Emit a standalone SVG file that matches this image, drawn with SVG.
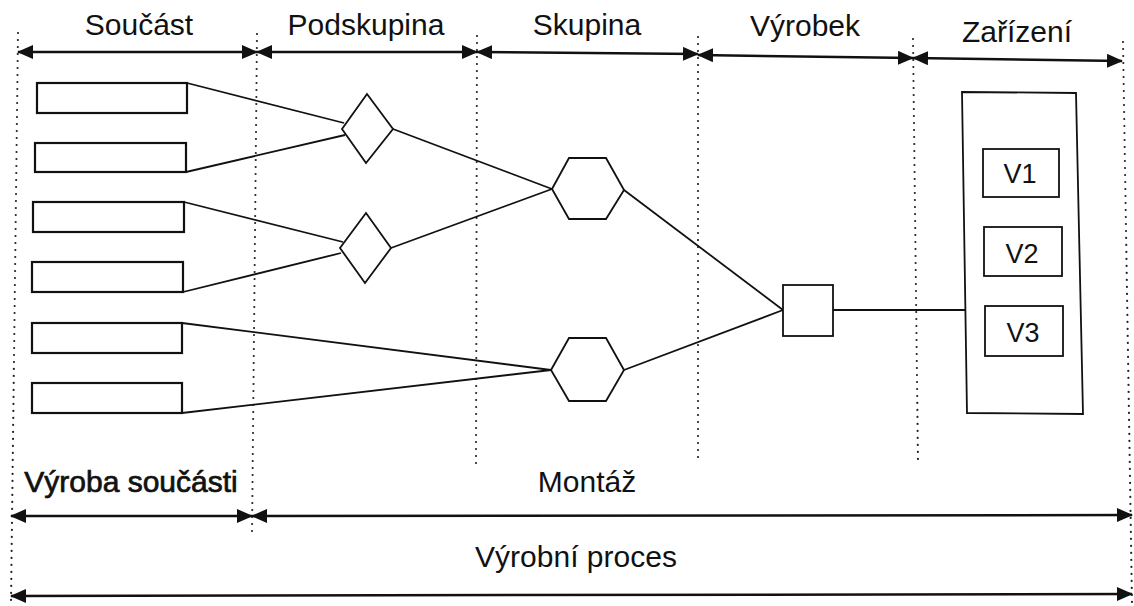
<svg xmlns="http://www.w3.org/2000/svg" width="1134" height="606" viewBox="0 0 1134 606">
  <defs>
    <marker id="head" viewBox="0 0 16 14" refX="15" refY="7" markerWidth="16" markerHeight="14" markerUnits="userSpaceOnUse" orient="auto-start-reverse">
      <path d="M0,0 L16,7 L0,14 Z" fill="#111"/>
    </marker>
    <style>
      .lbl { font-family: "Liberation Sans", Arial, sans-serif; font-size: 30px; fill: #111; text-anchor: middle; }
      .strong { stroke: #111; stroke-width: 0.7; }
      .vlbl { font-family: "Liberation Sans", Arial, sans-serif; font-size: 27px; fill: #111; text-anchor: middle; }
      .box { fill: #fff; stroke: #111; stroke-width: 2.2; }
      .shape { fill: #fff; stroke: #111; stroke-width: 1.8; stroke-linejoin: miter; }
      .link { stroke: #111; stroke-width: 1.8; fill: none; }
      .span { stroke: #111; stroke-width: 2.5; fill: none; marker-start: url(#head); marker-end: url(#head); }
      .dots { stroke: #222; stroke-width: 2.2; stroke-linecap: round; stroke-dasharray: 0 7; fill: none; }
    </style>
  </defs>
  <rect width="1134" height="606" fill="#fff"/>

  <!-- phase boundaries -->
  <g id="boundaries">
    <line class="dots" x1="18" y1="33" x2="11" y2="603"/>
    <line class="dots" x1="257" y1="34" x2="252" y2="534"/>
    <line class="dots" x1="477" y1="36" x2="476" y2="463"/>
    <line class="dots" x1="698" y1="37" x2="698" y2="463"/>
    <line class="dots" x1="913" y1="39" x2="918" y2="463"/>
    <line class="dots" x1="1123" y1="42" x2="1132" y2="603"/>
  </g>

  <!-- phase spans -->
  <g id="spans">
    <line class="span" x1="18" y1="52" x2="257" y2="52"/>
    <line class="span" x1="257" y1="52" x2="477" y2="52"/>
    <line class="span" x1="477" y1="52" x2="698" y2="54"/>
    <line class="span" x1="698" y1="55" x2="913" y2="58"/>
    <line class="span" x1="913" y1="58" x2="1122" y2="61"/>
    <line class="span" x1="11" y1="516" x2="252" y2="516"/>
    <line class="span" x1="252" y1="516" x2="1132" y2="515"/>
    <line class="span" x1="11" y1="596" x2="1132" y2="594"/>
  </g>

  <g id="labels">
    <text class="lbl" x="139" y="35">Součást</text>
    <text class="lbl" x="366" y="35">Podskupina</text>
    <text class="lbl" x="587" y="35">Skupina</text>
    <text class="lbl" x="805" y="36">Výrobek</text>
    <text class="lbl" x="1017" y="42">Zařízení</text>
    <text class="lbl strong" x="131" y="492">Výroba součásti</text>
    <text class="lbl" x="587" y="492">Montáž</text>
    <text class="lbl" x="576" y="567">Výrobní proces</text>
  </g>

  <!-- connectors -->
  <g id="connectors">
    <line class="link" x1="187" y1="83" x2="344" y2="123"/>
    <line class="link" x1="186" y1="172" x2="345" y2="135"/>
    <line class="link" x1="184" y1="202" x2="343" y2="242"/>
    <line class="link" x1="183" y1="292" x2="341" y2="253"/>
    <line class="link" x1="182" y1="323" x2="551" y2="370"/>
    <line class="link" x1="182" y1="413" x2="551" y2="370"/>
    <line class="link" x1="393" y1="129" x2="552" y2="189"/>
    <line class="link" x1="391" y1="248" x2="552" y2="189"/>
    <line class="link" x1="624" y1="190" x2="783" y2="310"/>
    <line class="link" x1="624" y1="370" x2="783" y2="310"/>
    <line class="link" x1="833" y1="310" x2="965" y2="310"/>
  </g>

  <!-- components -->
  <g id="part1"><rect class="box" x="37" y="83" width="150" height="30"/></g>
  <g id="part2"><rect class="box" x="35" y="143" width="151" height="29"/></g>
  <g id="part3"><rect class="box" x="33" y="202" width="151" height="30"/></g>
  <g id="part4"><rect class="box" x="32" y="262" width="151" height="30"/></g>
  <g id="part5"><rect class="box" x="32" y="323" width="150" height="30"/></g>
  <g id="part6"><rect class="box" x="32" y="383" width="150" height="30"/></g>

  <!-- subassemblies -->
  <g id="sub1"><polygon class="shape" points="367,94 393,129 366,163 342,129"/></g>
  <g id="sub2"><polygon class="shape" points="366,213 391,248 365,283 340,248"/></g>

  <!-- assemblies -->
  <g id="asm1"><polygon class="shape" points="552,189 569,158 606,158 624,190 606,219 569,219"/></g>
  <g id="asm2"><polygon class="shape" points="551,370 569,338 606,338 624,370 606,401 569,401"/></g>

  <!-- product -->
  <g id="product"><rect class="shape" x="783" y="285" width="50" height="51"/></g>

  <!-- equipment -->
  <g id="equipment">
    <polygon class="shape" points="962,92 1076,93 1083,414 967,413"/>
  </g>
  <g id="v1">
    <rect class="shape" x="983" y="149" width="76" height="48"/>
    <text class="vlbl" x="1020" y="183">V1</text>
  </g>
  <g id="v2">
    <rect class="shape" x="984" y="227" width="78" height="49"/>
    <text class="vlbl" x="1022" y="263">V2</text>
  </g>
  <g id="v3">
    <rect class="shape" x="985" y="306" width="78" height="50"/>
    <text class="vlbl" x="1023" y="342">V3</text>
  </g>
</svg>
